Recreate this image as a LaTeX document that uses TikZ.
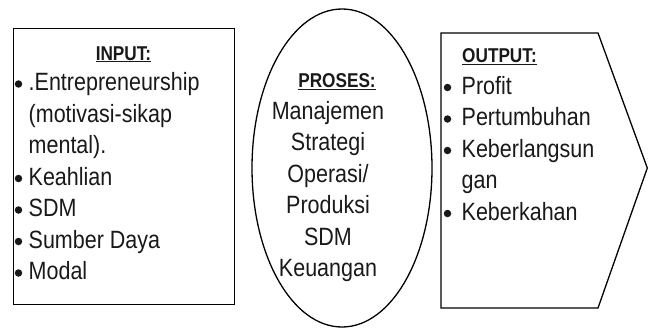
\documentclass[tikz,border=0pt]{standalone}
\usepackage{fontspec}
\setmainfont[FakeStretch=0.86]{Liberation Sans}
\usetikzlibrary{shapes.geometric}
\begin{document}
\begin{tikzpicture}[x=1pt,y=-1pt,
  txt/.style={font=\fontsize{25}{30}\selectfont, inner sep=0pt, anchor=base west, text=black!90},
  ctxt/.style={font=\fontsize{25}{30}\selectfont, inner sep=0pt, anchor=base, text=black!90},
  hd/.style={font=\fontsize{20}{24}\selectfont\bfseries, inner sep=0pt, anchor=base, text=black!90},
  hdw/.style={font=\fontsize{20}{24}\selectfont\bfseries, inner sep=0pt, anchor=base west, text=black!90},
  bul/.style={circle, fill=black!90, inner sep=0pt, outer sep=0pt, minimum size=7.5pt},
  frame/.style={draw=black, line width=1.3pt}]
\useasboundingbox (0,0) rectangle (648,329);
% input box
\node[frame, rectangle, minimum width=221.5pt, minimum height=276pt, inner sep=0pt, anchor=north west] (inbox) at (12.5,28) {};
\node[hd] (inh) at (123.5,60) {\underline{INPUT:}};
\node[txt] (in1) at (28.5,90.5) {.Entrepreneurship};
\node[txt] (in1b) at (28.5,122) {(motivasi-sikap};
\node[txt] (in1c) at (28.5,153.5) {mental).};
\node[txt] (in2) at (28.5,185) {Keahlian};
\node[txt] (in3) at (28.5,216.5) {SDM};
\node[txt] (in4) at (28.5,248) {Sumber Daya};
\node[txt] (in5) at (28.5,279.5) {Modal};
\foreach \y/\n in {90.5/1,185/2,216.5/3,248/4,279.5/5}
  \node[bul] (ib\n) at (18.5,\y-6.5) {};
% proses ellipse
\node[frame, ellipse, minimum width=180pt, minimum height=318pt, inner sep=0pt] (proc) at (342,168) {};
\node[hd] (prh) at (337,88) {\underline{PROSES:}};
\node[ctxt] (pr1) at (328,119) {Manajemen};
\node[ctxt] (pr2) at (328,150.5) {Strategi};
\node[ctxt] (pr3) at (328,182) {Operasi/};
\node[ctxt] (pr4) at (328,213.5) {Produksi};
\node[ctxt] (pr5) at (328,245) {SDM};
\node[ctxt] (pr6) at (328,276.5) {Keuangan};
% output pentagon
\coordinate (o1) at (441,33);
\coordinate (o2) at (598,33);
\coordinate (o3) at (647.3,168);
\coordinate (o4) at (598,308);
\coordinate (o5) at (441,308);
\draw[frame, line join=miter] (o1) -- (o2) -- (o3) -- (o4) -- (o5) -- cycle;
\node[hdw] (outh) at (462,63) {\underline{OUTPUT:}};
\node[txt] (out1) at (461.5,94) {Profit};
\node[txt] (out2) at (461.5,125.5) {Pertumbuhan};
\node[txt] (out3) at (461.5,157) {Keberlangsun};
\node[txt] (out3b) at (461.5,188.5) {gan};
\node[txt] (out4) at (461.5,220) {Keberkahan};
\foreach \y/\n in {94/1,125.5/2,157/3,220/4}
  \node[bul] (ob\n) at (447.5,\y-6.5) {};
\end{tikzpicture}
\end{document}
